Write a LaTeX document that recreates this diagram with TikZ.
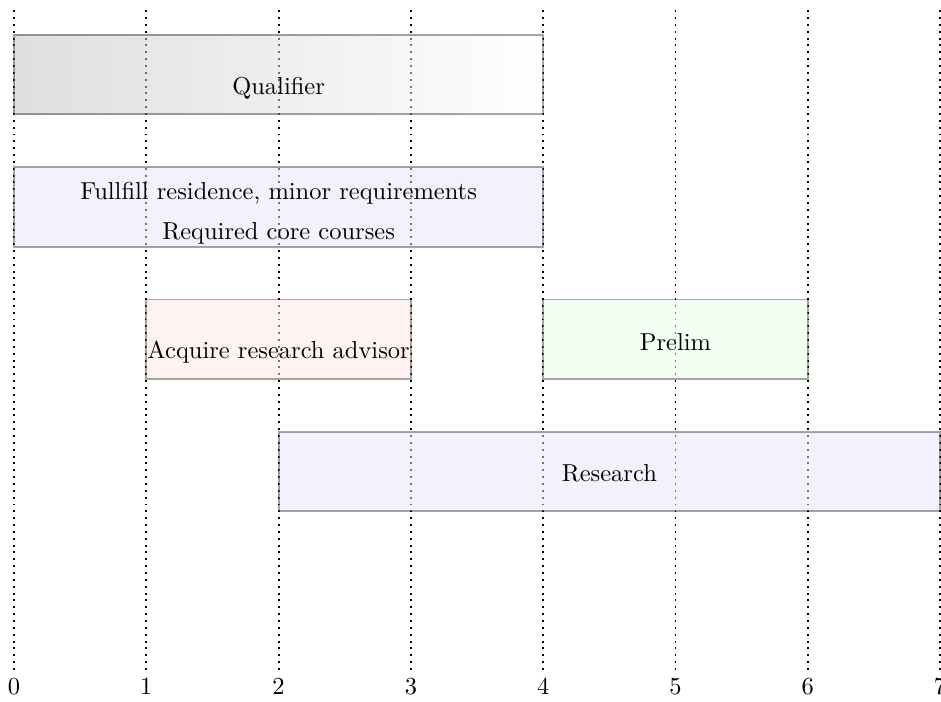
\documentclass[tikz,border=0pt]{standalone}
\usepackage{xcolor}
\usepackage{tikz}
\usetikzlibrary{positioning}

\begin{document}
\begin{tikzpicture}[x=1.9cm,y=1.9cm,
  phase/.style={draw=black,thick,draw opacity=0.35,fill opacity=0.5}]
\useasboundingbox (-0.106,-0.242) rectangle (7.007,5.064);
\foreach \x in {0,...,7}{
  \draw[dotted,thick] (\x,0) -- (\x,5);
  \node[below] (tick\x) at (\x,0) {$\x$};
}
\draw[phase,left color=gray!50,right color=white] (0,4.2) rectangle (4,4.8);
\draw[phase,fill=blue!10] (0,3.2) rectangle (4,3.8);
\draw[phase,fill=red!10] (1,2.2) rectangle (3,2.8);
\draw[phase,fill=green!10] (4,2.2) rectangle (6,2.8);
\draw[phase,fill=blue!10] (2,1.2) rectangle (7,1.8);
\node (qual) at (2,4.4) {Qualifier};
\node (resid) at (2,3.6) {Fullfill residence, minor requirements};
\node (core) at (2,3.3) {Required core courses};
\node (advisor) at (2,2.4) {Acquire research advisor};
\node (prelim) at (5,2.48) {Prelim};
\node (research) at (4.5,1.49) {Research};
\end{tikzpicture}
\end{document}
